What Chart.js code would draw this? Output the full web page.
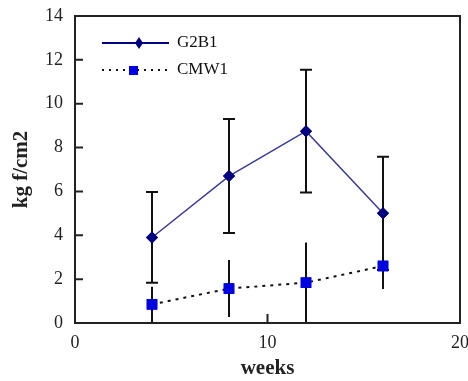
<!DOCTYPE html>
<html>
<head>
<meta charset="utf-8">
<script src="https://cdn.jsdelivr.net/npm/chart.js@4"></script>
<style>
    html, body { margin: 0; padding: 0; background: #fff; }
    #wrap { width: 468px; height: 381px; }
</style>
</head>
<body>
<div id="wrap"><canvas id="chart" width="468" height="381"></canvas></div>
<script>
// data
const weeks = [4, 8, 12, 16];
const g2b1 = [3.9, 6.7, 8.75, 5.0];
const g2b1Err = [2.07, 2.6, 2.8, 2.58];
const cmw1 = [0.85, 1.57, 1.84, 2.6];
const cmw1Err = [0.8, 1.3, 1.83, 1.05];
const seriesNames = ['G2B1', 'CMW1'];
const xTickValues = [0, 10, 20];
const yTickValues = [0, 2, 4, 6, 8, 10, 12, 14];

const SERIF = "'Liberation Serif', 'Times New Roman', serif";
const NAVY = '#000080';
const LINE_BLUE = '#3a3a9e';
const SQUARE_BLUE = '#0000e0';

// error bars, drawn under the markers
const errorBars = {
    id: 'errorBars',
    afterDatasetsDraw(chart) {
        const ctx = chart.ctx;
        const xs = chart.scales.x, ys = chart.scales.y;
        const sets = [
            { vals: g2b1, errs: g2b1Err, cap: 6 },
            { vals: cmw1, errs: cmw1Err, cap: 0 }
        ];
        ctx.save();
        ctx.strokeStyle = '#111';
        ctx.lineWidth = 2;
        sets.forEach(s => {
            s.vals.forEach((v, i) => {
                const x = xs.getPixelForValue(weeks[i]);
                const yTop = ys.getPixelForValue(v + s.errs[i]);
                const yBot = ys.getPixelForValue(v - s.errs[i]);
                ctx.beginPath();
                ctx.moveTo(x, yTop);
                ctx.lineTo(x, yBot);
                if (s.cap) {
                    ctx.moveTo(x - s.cap, yTop);
                    ctx.lineTo(x + s.cap, yTop);
                    ctx.moveTo(x - s.cap, yBot);
                    ctx.lineTo(x + s.cap, yBot);
                }
                ctx.stroke();
            });
        });
        ctx.restore();
        // markers back on top of the bars
        chart.getSortedVisibleDatasetMetas().forEach(meta => {
            meta.data.forEach(pt => pt.draw(ctx, chart.chartArea));
        });
    }
};

// box frame, inward ticks and the legend
const frame = {
    id: 'frame',
    afterDraw(chart) {
        const ctx = chart.ctx;
        const a = chart.chartArea;
        const xs = chart.scales.x, ys = chart.scales.y;
        ctx.save();
        ctx.strokeStyle = '#222';
        ctx.lineWidth = 2;
        ctx.strokeRect(a.left, a.top, a.right - a.left, a.bottom - a.top);
        ctx.beginPath();
        yTickValues.forEach(v => {
            const y = ys.getPixelForValue(v);
            ctx.moveTo(a.left, y);
            ctx.lineTo(a.left + 8, y);
        });
        xTickValues.forEach(v => {
            const x = xs.getPixelForValue(v);
            ctx.moveTo(x, a.bottom);
            ctx.lineTo(x, a.bottom - 9);
        });
        ctx.stroke();

        // legend
        ctx.font = '17px ' + SERIF;
        ctx.textBaseline = 'middle';
        ctx.fillStyle = '#111';

        ctx.strokeStyle = NAVY;
        ctx.lineWidth = 2;
        ctx.beginPath();
        ctx.moveTo(102, 43);
        ctx.lineTo(169, 43);
        ctx.stroke();
        ctx.fillStyle = NAVY;
        ctx.beginPath();
        ctx.moveTo(139, 37);
        ctx.lineTo(143, 43);
        ctx.lineTo(139, 49);
        ctx.lineTo(135, 43);
        ctx.closePath();
        ctx.fill();
        ctx.fillStyle = '#111';
        ctx.fillText(seriesNames[0], 177, 43);

        ctx.strokeStyle = '#111';
        ctx.setLineDash([2, 5]);
        ctx.beginPath();
        ctx.moveTo(102, 70);
        ctx.lineTo(168, 70);
        ctx.stroke();
        ctx.setLineDash([]);
        ctx.fillStyle = SQUARE_BLUE;
        ctx.fillRect(129, 66, 9, 9);
        ctx.fillStyle = '#111';
        ctx.fillText(seriesNames[1], 177, 70);
        ctx.restore();
    }
};

new Chart(document.getElementById('chart').getContext('2d'), {
    type: 'line',
    data: {
        datasets: [{
            label: seriesNames[0],
            data: weeks.map((w, i) => ({ x: w, y: g2b1[i] })),
            borderColor: LINE_BLUE,
            borderWidth: 1.5,
            pointStyle: 'rectRot',
            pointRadius: 6,
            pointBackgroundColor: NAVY,
            pointBorderColor: NAVY,
            pointBorderWidth: 0,
            tension: 0
        }, {
            label: seriesNames[1],
            data: weeks.map((w, i) => ({ x: w, y: cmw1[i] })),
            borderColor: '#111',
            borderWidth: 2,
            borderDash: [3, 5],
            pointStyle: 'rect',
            pointRadius: 7.5,
            pointBackgroundColor: SQUARE_BLUE,
            pointBorderColor: SQUARE_BLUE,
            pointBorderWidth: 0,
            tension: 0
        }]
    },
    options: {
        responsive: false,
        animation: false,
        events: [],
        layout: { padding: { top: 16, right: 8, left: 0, bottom: 0 } },
        plugins: {
            legend: { display: false },
            tooltip: { enabled: false }
        },
        scales: {
            x: {
                type: 'linear',
                min: 0,
                max: 20,
                afterBuildTicks: s => { s.ticks = xTickValues.map(v => ({ value: v })); },
                afterFit: s => { s.height = 58; s.paddingLeft = 0; s.paddingRight = 0; },
                grid: { display: false, drawTicks: false },
                border: { display: false },
                ticks: {
                    padding: 9,
                    maxRotation: 0,
                    color: '#222',
                    font: { family: SERIF, size: 18 }
                },
                title: {
                    display: true,
                    text: 'weeks',
                    color: '#222',
                    padding: { top: 0, bottom: 0 },
                    font: { family: SERIF, size: 21, weight: 'bold' }
                }
            },
            y: {
                min: 0,
                max: 14,
                afterBuildTicks: s => { s.ticks = yTickValues.map(v => ({ value: v })); },
                afterFit: s => { s.width = 75; s.paddingTop = 0; s.paddingBottom = 0; },
                grid: { display: false, drawTicks: false },
                border: { display: false },
                ticks: {
                    padding: 12,
                    color: '#222',
                    font: { family: SERIF, size: 18 }
                },
                title: {
                    display: true,
                    text: 'kg f/cm2',
                    color: '#222',
                    padding: { top: 9, bottom: 0 },
                    font: { family: SERIF, size: 21, weight: 'bold' }
                }
            }
        }
    },
    plugins: [errorBars, frame]
});
</script>
</body>
</html>
